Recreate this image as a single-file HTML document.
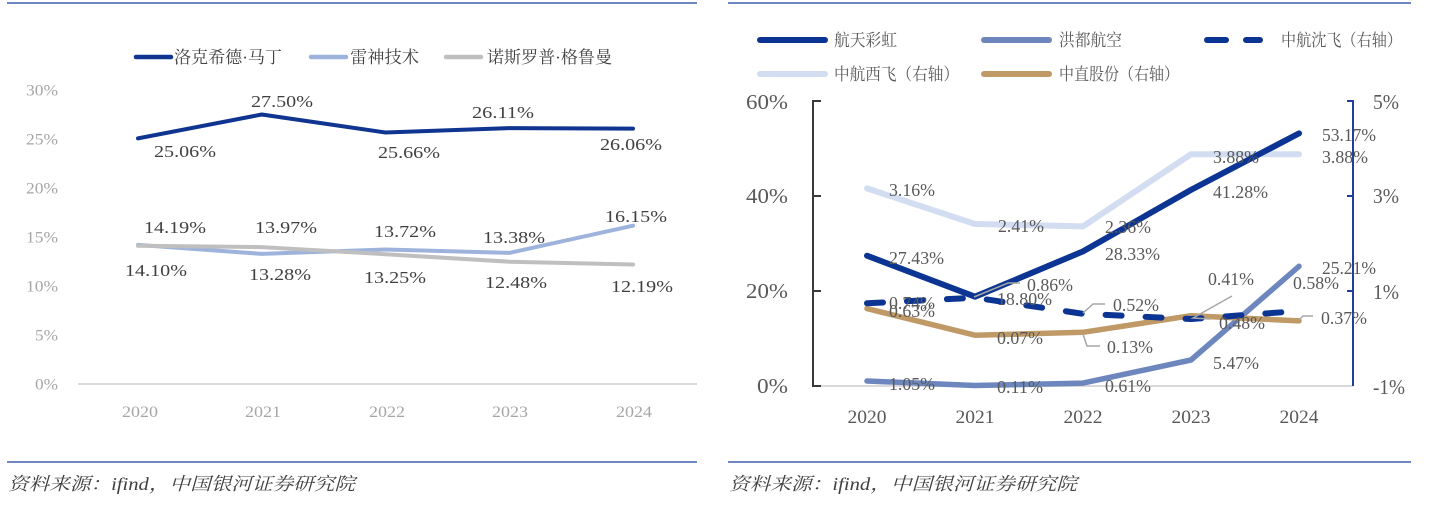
<!DOCTYPE html>
<html><head><meta charset="utf-8"><style>
html,body{margin:0;padding:0;background:#fff;}
svg{display:block;}
text{font-family:"Liberation Serif","Noto Serif CJK SC",serif;}
</style></head><body>
<svg width="1429" height="507" viewBox="0 0 1429 507" xmlns="http://www.w3.org/2000/svg">
<!-- rules -->
<line x1="7" y1="3" x2="697" y2="3" stroke="#6f87c0" stroke-width="2"/>
<line x1="7" y1="462" x2="697" y2="462" stroke="#6f87c0" stroke-width="2"/>
<line x1="728" y1="3" x2="1411" y2="3" stroke="#6f87c0" stroke-width="2"/>
<line x1="728" y1="462" x2="1411" y2="462" stroke="#6f87c0" stroke-width="2"/>

<!-- LEFT CHART -->
<g font-size="17" fill="#404040">
<line x1="136" y1="57" x2="171" y2="57" stroke="#0f3590" stroke-width="4.5" stroke-linecap="round"/>
<text x="174" y="63" textLength="108" lengthAdjust="spacingAndGlyphs">洛克希德·马丁</text>
<line x1="311" y1="57" x2="346" y2="57" stroke="#9db3dc" stroke-width="4.5" stroke-linecap="round"/>
<text x="350" y="63" textLength="69" lengthAdjust="spacingAndGlyphs">雷神技术</text>
<line x1="446" y1="57" x2="481" y2="57" stroke="#bfbfbf" stroke-width="4.5" stroke-linecap="round"/>
<text x="487" y="63" textLength="125" lengthAdjust="spacingAndGlyphs">诺斯罗普·格鲁曼</text>
</g>
<g font-size="16" fill="#a6a6a6" text-anchor="end">
<text x="58" y="95.5" textLength="32" lengthAdjust="spacingAndGlyphs">30%</text>
<text x="58" y="144.5" textLength="32" lengthAdjust="spacingAndGlyphs">25%</text>
<text x="58" y="193.5" textLength="32" lengthAdjust="spacingAndGlyphs">20%</text>
<text x="58" y="242.5" textLength="32" lengthAdjust="spacingAndGlyphs">15%</text>
<text x="58" y="291.5" textLength="32" lengthAdjust="spacingAndGlyphs">10%</text>
<text x="58" y="340.5" textLength="23" lengthAdjust="spacingAndGlyphs">5%</text>
<text x="58" y="389.5" textLength="23" lengthAdjust="spacingAndGlyphs">0%</text>
</g>
<line x1="78" y1="384" x2="697" y2="384" stroke="#d9d9d9" stroke-width="2"/>
<g font-size="16" fill="#a6a6a6" text-anchor="middle">
<text x="140" y="417" textLength="36" lengthAdjust="spacingAndGlyphs">2020</text>
<text x="263" y="417" textLength="36" lengthAdjust="spacingAndGlyphs">2021</text>
<text x="387" y="417" textLength="36" lengthAdjust="spacingAndGlyphs">2022</text>
<text x="510" y="417" textLength="36" lengthAdjust="spacingAndGlyphs">2023</text>
<text x="634" y="417" textLength="36" lengthAdjust="spacingAndGlyphs">2024</text>
</g>
<g fill="none" stroke-width="4" stroke-linejoin="round" stroke-linecap="round">
<polyline stroke="#0f3590" points="138,138.4 261.75,114.5 385.5,132.5 509.25,128.1 633,128.6"/>
<polyline stroke="#9db3dc" points="138,244.9 261.75,253.9 385.5,249.5 509.25,252.9 633,225.7"/>
<polyline stroke="#bfbfbf" points="138,245.8 261.75,247.1 385.5,254.2 509.25,261.7 633,264.5"/>
</g>
<g font-size="17" fill="#404040">
<text x="154" y="157" textLength="62" lengthAdjust="spacingAndGlyphs">25.06%</text>
<text x="251" y="107" textLength="62" lengthAdjust="spacingAndGlyphs">27.50%</text>
<text x="378" y="158" textLength="62" lengthAdjust="spacingAndGlyphs">25.66%</text>
<text x="472" y="118" textLength="62" lengthAdjust="spacingAndGlyphs">26.11%</text>
<text x="600" y="150" textLength="62" lengthAdjust="spacingAndGlyphs">26.06%</text>
<text x="144" y="233" textLength="62" lengthAdjust="spacingAndGlyphs">14.19%</text>
<text x="255" y="233" textLength="62" lengthAdjust="spacingAndGlyphs">13.97%</text>
<text x="374" y="237" textLength="62" lengthAdjust="spacingAndGlyphs">13.72%</text>
<text x="483" y="243" textLength="62" lengthAdjust="spacingAndGlyphs">13.38%</text>
<text x="605" y="222" textLength="62" lengthAdjust="spacingAndGlyphs">16.15%</text>
<text x="125" y="276" textLength="62" lengthAdjust="spacingAndGlyphs">14.10%</text>
<text x="249" y="280" textLength="62" lengthAdjust="spacingAndGlyphs">13.28%</text>
<text x="364" y="283" textLength="62" lengthAdjust="spacingAndGlyphs">13.25%</text>
<text x="485" y="288" textLength="62" lengthAdjust="spacingAndGlyphs">12.48%</text>
<text x="611" y="292" textLength="62" lengthAdjust="spacingAndGlyphs">12.19%</text>
</g>
<text x="8" y="490" font-size="18" font-style="italic" fill="#404040" textLength="347" lengthAdjust="spacingAndGlyphs">资料来源：ifind，中国银河证券研究院</text>

<!-- RIGHT CHART -->
<g font-size="17" fill="#595959">
<line x1="760" y1="40" x2="825" y2="40" stroke="#0c3593" stroke-width="6" stroke-linecap="round"/>
<text x="834" y="46" textLength="63" lengthAdjust="spacingAndGlyphs">航天彩虹</text>
<line x1="984" y1="40" x2="1049" y2="40" stroke="#6d87be" stroke-width="6" stroke-linecap="round"/>
<text x="1059" y="46" textLength="63" lengthAdjust="spacingAndGlyphs">洪都航空</text>
<line x1="1207" y1="40" x2="1226" y2="40" stroke="#0c3593" stroke-width="6" stroke-linecap="round"/>
<line x1="1246" y1="40" x2="1260" y2="40" stroke="#0c3593" stroke-width="6" stroke-linecap="round"/>
<text x="1281" y="46" textLength="121" lengthAdjust="spacingAndGlyphs">中航沈飞（右轴）</text>
<line x1="760" y1="74" x2="825" y2="74" stroke="#d2ddf1" stroke-width="6" stroke-linecap="round"/>
<text x="834" y="80" textLength="125" lengthAdjust="spacingAndGlyphs">中航西飞（右轴）</text>
<line x1="984" y1="74" x2="1049" y2="74" stroke="#bf9966" stroke-width="6" stroke-linecap="round"/>
<text x="1059" y="80" textLength="120" lengthAdjust="spacingAndGlyphs">中直股份（右轴）</text>
</g>
<!-- axes -->
<line x1="813" y1="386" x2="1353" y2="386" stroke="#d9d9d9" stroke-width="2"/>
<g stroke="#3a3a3a" stroke-width="2" fill="none">
<polyline points="821,101 813,101 813,386 821,386"/>
<line x1="813" y1="196" x2="821" y2="196"/>
<line x1="813" y1="291" x2="821" y2="291"/>
</g>
<g stroke="#1f3f99" stroke-width="2" fill="none">
<polyline points="1347,101 1353,101 1353,386"/>
<line x1="1347" y1="196" x2="1353" y2="196"/>
<line x1="1347" y1="291" x2="1353" y2="291"/>
</g>
<g font-size="21" fill="#595959" text-anchor="end">
<text x="788" y="109" textLength="42" lengthAdjust="spacingAndGlyphs">60%</text>
<text x="788" y="203" textLength="42" lengthAdjust="spacingAndGlyphs">40%</text>
<text x="788" y="298" textLength="42" lengthAdjust="spacingAndGlyphs">20%</text>
<text x="788" y="393" textLength="31" lengthAdjust="spacingAndGlyphs">0%</text>
</g>
<g font-size="21" fill="#595959">
<text x="1373" y="109" textLength="26" lengthAdjust="spacingAndGlyphs">5%</text>
<text x="1373" y="203" textLength="26" lengthAdjust="spacingAndGlyphs">3%</text>
<text x="1373" y="299" textLength="26" lengthAdjust="spacingAndGlyphs">1%</text>
<text x="1373" y="394" textLength="32" lengthAdjust="spacingAndGlyphs">-1%</text>
</g>
<g font-size="19" fill="#595959" text-anchor="middle">
<text x="867" y="423" textLength="39" lengthAdjust="spacingAndGlyphs">2020</text>
<text x="975" y="423" textLength="39" lengthAdjust="spacingAndGlyphs">2021</text>
<text x="1083" y="423" textLength="39" lengthAdjust="spacingAndGlyphs">2022</text>
<text x="1191" y="423" textLength="39" lengthAdjust="spacingAndGlyphs">2023</text>
<text x="1299" y="423" textLength="39" lengthAdjust="spacingAndGlyphs">2024</text>
</g>
<!-- series -->
<g fill="none" stroke-linejoin="round" stroke-linecap="round">
<polyline stroke="#d2ddf1" stroke-width="6" points="867,188.4 975,224 1083,226.4 1191,154.2 1299,154.2"/>
<polyline stroke="#0c3593" stroke-width="6" points="867,255.7 975,296.7 1083,251.4 1191,189.9 1299,133.4"/>
<polyline stroke="#6d87be" stroke-width="5.5" points="867,381 975,385.5 1083,383.1 1191,360 1299,266.3"/>
<polyline stroke="#bf9966" stroke-width="5.5" points="867,308.6 975,335.2 1083,332.3 1191,315.7 1299,320.9"/>
<polyline stroke="#0c3593" stroke-width="6" stroke-dasharray="16 24" points="867,303.3 975,297.7 1083,313.8 1191,319 1299,311"/>
</g>
<!-- leaders -->
<g fill="none" stroke="#a6a6a6" stroke-width="1.5">
<polyline points="974,297 1008,283 1020,283"/>
<polyline points="1083,313 1093,304 1105,304"/>
<polyline points="1083,334 1087,346 1100,346"/>
<polyline points="1232,296 1193,318 1210,319"/>
<polyline points="1299,320 1303,316 1313,316"/>
</g>
<g font-size="18" fill="#595959">
<text x="889" y="196" textLength="46" lengthAdjust="spacingAndGlyphs">3.16%</text>
<text x="998" y="232" textLength="46" lengthAdjust="spacingAndGlyphs">2.41%</text>
<text x="1105" y="233" textLength="46" lengthAdjust="spacingAndGlyphs">2.36%</text>
<text x="1213" y="163" textLength="46" lengthAdjust="spacingAndGlyphs">3.88%</text>
<text x="1322" y="163" textLength="46" lengthAdjust="spacingAndGlyphs">3.88%</text>
<text x="1322" y="141" textLength="54" lengthAdjust="spacingAndGlyphs">53.17%</text>
<text x="1213" y="198" textLength="55" lengthAdjust="spacingAndGlyphs">41.28%</text>
<text x="1105" y="260" textLength="55" lengthAdjust="spacingAndGlyphs">28.33%</text>
<text x="889" y="264" textLength="55" lengthAdjust="spacingAndGlyphs">27.43%</text>
<text x="997" y="305" textLength="55" lengthAdjust="spacingAndGlyphs">18.80%</text>
<text x="1027" y="291" textLength="46" lengthAdjust="spacingAndGlyphs">0.86%</text>
<text x="889" y="309" textLength="46" lengthAdjust="spacingAndGlyphs">0.74%</text>
<text x="889" y="317" textLength="46" lengthAdjust="spacingAndGlyphs">0.63%</text>
<text x="997" y="344" textLength="46" lengthAdjust="spacingAndGlyphs">0.07%</text>
<text x="889" y="390" textLength="46" lengthAdjust="spacingAndGlyphs">1.05%</text>
<text x="997" y="393" textLength="46" lengthAdjust="spacingAndGlyphs">0.11%</text>
<text x="1113" y="311" textLength="46" lengthAdjust="spacingAndGlyphs">0.52%</text>
<text x="1107" y="353" textLength="46" lengthAdjust="spacingAndGlyphs">0.13%</text>
<text x="1105" y="392" textLength="46" lengthAdjust="spacingAndGlyphs">0.61%</text>
<text x="1208" y="285" textLength="46" lengthAdjust="spacingAndGlyphs">0.41%</text>
<text x="1219" y="329" textLength="46" lengthAdjust="spacingAndGlyphs">0.48%</text>
<text x="1213" y="369" textLength="46" lengthAdjust="spacingAndGlyphs">5.47%</text>
<text x="1322" y="274" textLength="54" lengthAdjust="spacingAndGlyphs">25.21%</text>
<text x="1293" y="289" textLength="46" lengthAdjust="spacingAndGlyphs">0.58%</text>
<text x="1321" y="324" textLength="46" lengthAdjust="spacingAndGlyphs">0.37%</text>
</g>
<text x="729" y="490" font-size="18" font-style="italic" fill="#404040" textLength="348" lengthAdjust="spacingAndGlyphs">资料来源：ifind，中国银河证券研究院</text>
</svg>
</body></html>
